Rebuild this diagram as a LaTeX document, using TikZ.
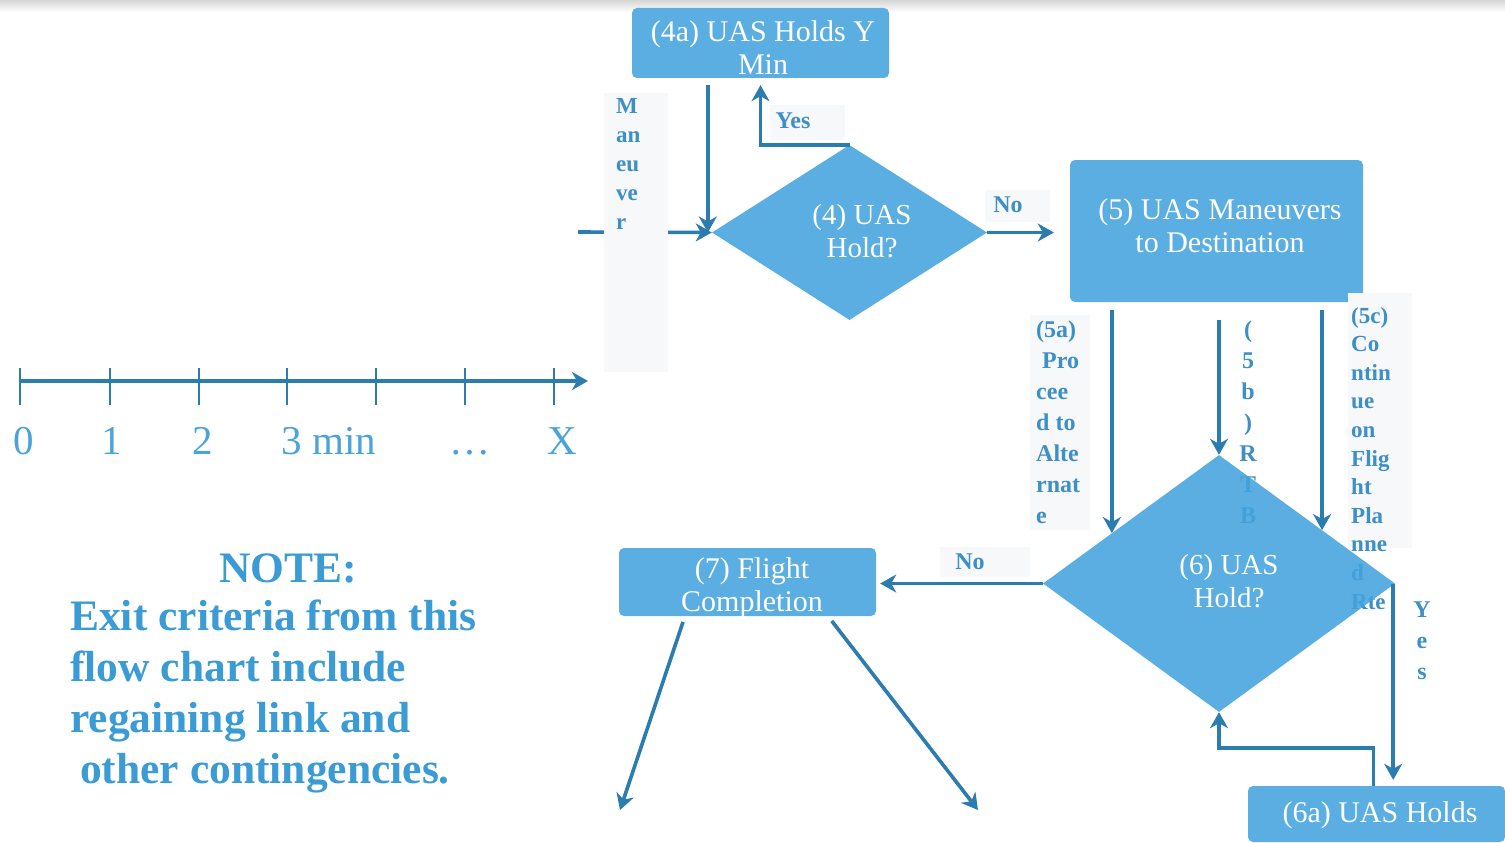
\documentclass[tikz,border=0pt]{standalone}
\usepackage{fontspec}
\setmainfont{Liberation Serif}
\usetikzlibrary{shapes.geometric,arrows.meta,calc}
\definecolor{boxblue}{HTML}{5BAEE1}
\definecolor{diamblue}{HTML}{45A3DD}
\definecolor{linec}{HTML}{2A7DAE}
\definecolor{lblc}{HTML}{3D8FC6}
\definecolor{notec}{HTML}{3A9BD5}
\definecolor{tickc}{HTML}{4AA3DA}
\definecolor{lblbg}{HTML}{F6F8F9}
\begin{document}
\begin{tikzpicture}[x=1pt,y=-1pt,
 boxnode/.style={draw=none, fill=boxblue, rounded corners=5pt, inner sep=0pt},
 boxtext/.style={text=white, align=center, font=\fontsize{30}{33}\selectfont, inner sep=0pt},
 dia/.style={diamond, draw=none, fill=diamblue, fill opacity=0.88, inner sep=0pt},
 diatext/.style={text=white, align=center, font=\fontsize{29}{33}\selectfont, inner sep=0pt},
 arr/.style={draw=linec, line width=3.6pt, -{Stealth[length=16pt,width=18pt,inset=5pt]}},
 lbl/.style={text=lblc, font=\bfseries\fontsize{24}{31}\selectfont, inner sep=0pt},
 lblsm/.style={text=lblc, font=\bfseries\fontsize{23}{28.6}\selectfont, inner sep=0pt},
 tlab/.style={text=tickc, font=\fontsize{41}{41}\selectfont, inner sep=0pt, anchor=base},
 notet/.style={text=notec, font=\bfseries\fontsize{43.5}{51}\selectfont, inner sep=0pt},
]
\useasboundingbox (0,0) rectangle (1505,843);
\fill[white] (0,0) rectangle (1505,843);
\shade[top color=black!16, bottom color=white] (0,0) rectangle (1505,12);

% timeline
\coordinate (t0) at (20,381);
\coordinate (t1) at (588,381);
\draw[arr] (t0) -- (t1);
\foreach \x in {20,110,199,287,376,465,554} \draw[linec, line width=1.8pt] (\x,368) -- (\x,405);
\node[tlab] (l0) at (24,454) {0};
\node[tlab] (l1) at (112,454) {1};
\node[tlab] (l2) at (203,454) {2};
\node[tlab] (l3) at (329,454) {3 min};
\node[tlab] (l4) at (470,454) {…};
\node[tlab] (l5) at (562,454) {X};

% note
\node[notet] (notehead) at (288,568) {NOTE:};
\node[notet, anchor=north west, align=left] (notebody) at (70,600) {Exit criteria from this\\flow chart include\\regaining link and\\\hspace*{10pt}other contingencies.};

% boxes
\node[boxnode, minimum width=257pt, minimum height=70pt] (b4a) at (760.5,43) {};
\node[boxtext] (b4at) at (763,47.5) {(4a) UAS Holds Y\\Min};
\node[dia, minimum width=275pt, minimum height=175pt] (d4) at (849.5,232.5) {};
\node[diatext] (d4t) at (862,231) {(4) UAS\\Hold?};
\node[boxnode, minimum width=293pt, minimum height=142pt] (b5) at (1216.5,231) {};
\node[boxtext] (b5t) at (1220,225.5) {(5) UAS Maneuvers\\to Destination};
\node[boxnode, minimum width=257pt, minimum height=68pt] (b7) at (747.5,582) {};
\node[boxtext] (b7t) at (752,588) {(7) Flight\\Completion};
\node[boxnode, minimum width=257pt, minimum height=56pt] (b6a) at (1376.5,814) {};
\node[boxtext] (b6at) at (1380,815) {(6a) UAS Holds};

% incoming arrow
\coordinate (in4) at (578,232);
\draw[arr] (in4) -- (d4.west);

% label backgrounds
\fill[lblbg] (604,93) rectangle (668,372);
\fill[lblbg] (770,105) rectangle (845,140);
\fill[lblbg] (985,190) rectangle (1050,222);
\fill[lblbg] (1030,315) rectangle (1090,530);
\fill[lblbg] (1348,293) rectangle (1412,548);
\fill[lblbg] (940,547) rectangle (1030,577);

% labels
\node[lbl, font=\bfseries\fontsize{23}{29}\selectfont, anchor=north west, align=left] (lman) at (616,98) {M\\an\\eu\\ve\\r};
\node[lbl] (lyes) at (793,121) {Yes};
\node[lbl] (lno) at (1008,205) {No};
\node[lbl, anchor=north west, align=left] (l5a) at (1036,321) {(5a)\\\hspace*{6pt}Pro\\cee\\d to\\Alte\\rnat\\e};
\node[lbl, anchor=north, align=center] (l5b) at (1248,321) {(\\5\\b\\)\\R\\T\\B};
\node[lblsm, anchor=north west, align=left] (l5c) at (1351,307) {(5c)\\Co\\ntin\\ue\\on\\Flig\\ht\\Pla\\nne\\d\\Rte};
\node[lbl] (lno2) at (970,562) {No};
\node[lbl, anchor=north, align=center] (lyes2) at (1422,602) {Y\\e\\s};

% diamond 6
\node[dia, minimum width=352pt, minimum height=257pt] (d6) at (1219,583.5) {};
\node[diatext] (d6t) at (1229,581) {(6) UAS\\Hold?};

% arrows
\draw[arr, shorten <=7pt] (d4.west |- b4a.south) ++(-4,0) coordinate (s4a) -- (s4a |- d4.west);
\draw[arr, shorten >=7pt] (d4.north) -| (b4a.south);
\draw[arr, shorten >=16pt] (d4.east) -- (b5.west |- d4.east);

\coordinate (p5a) at ($(d6.west)!0.392!(d6.north)$);
\coordinate (p5c) at ($(d6.north)!0.585!(d6.east)$);
\draw[arr, shorten <=8pt] (b5.south -| p5a) -- (p5a);
\draw[arr, shorten <=18pt] (b5.south -| d6.north) -- (d6.north);
\draw[arr, shorten <=8pt] (b5.south -| p5c) -- (p5c);

\draw[arr, shorten >=4pt] (d6.west) -- (b7.east |- d6.west);
\draw[arr, shorten >=6pt] ($(d6.east)+(-2,0)$) coordinate (s6e) -- (s6e |- b6a.north);
\draw[arr] ($(b6a.north)+(-3,0)$) -- ++(0,-38) -| (d6.south);

\coordinate (e7a) at (620,810);
\coordinate (e7b) at (978,810);
\draw[arr, shorten <=6pt] ($(b7.south west)!0.257!(b7.south east)$) -- (e7a);
\draw[arr, shorten <=6pt] ($(b7.south west)!0.813!(b7.south east)$) -- (e7b);
\end{tikzpicture}
\end{document}
